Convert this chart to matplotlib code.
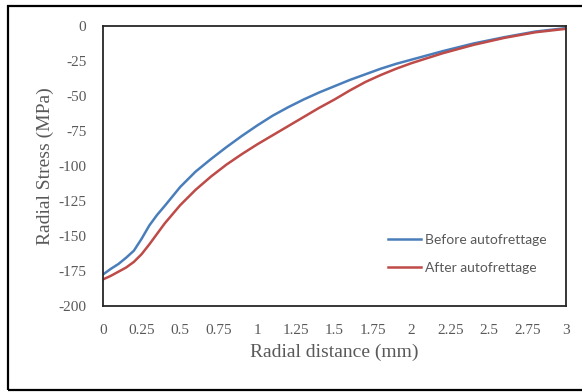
import matplotlib
matplotlib.use("Agg")
import matplotlib.pyplot as plt
from matplotlib.patches import Rectangle

plt.rcParams["axes.unicode_minus"] = False

# values
radius = [0, 0.05, 0.1, 0.15, 0.2, 0.25, 0.3, 0.35, 0.4, 0.5, 0.6, 0.7, 0.8, 0.9, 1,
          1.1, 1.2, 1.3, 1.4, 1.5, 1.6, 1.7, 1.8, 1.9, 2, 2.2, 2.4, 2.6, 2.8, 3]
before = [-177.5, -173.5, -170, -165.5, -160.5, -152, -142.5, -135, -128.5, -115, -104, -95,
          -86.5, -78.5, -71, -64, -58, -52.5, -47.5, -43, -38.5, -34.5, -30.5, -27, -24,
          -18, -12.5, -8, -4, -1.5]
after = [-181, -178.5, -175.5, -172.5, -168.5, -163, -156, -148.5, -141, -128, -117, -107.5,
         -99, -91.5, -84.5, -78, -71.5, -65, -58.5, -52.5, -46, -40, -35, -30.5, -26.5,
         -19.5, -13.5, -8.5, -4.5, -2]

xticks = [0, 0.25, 0.5, 0.75, 1, 1.25, 1.5, 1.75, 2, 2.25, 2.5, 2.75, 3]
xtick_labels = ["0", "0.25", "0.5", "0.75", "1", "1.25", "1.5", "1.75", "2", "2.25", "2.5", "2.75", "3"]
yticks = [0, -25, -50, -75, -100, -125, -150, -175, -200]

grey = "#595959"

fig = plt.figure(figsize=(5.82, 3.92), dpi=100)
ax = fig.add_axes([103/582, 1-306/392, (566-103)/582, (306-26)/392])

ax.plot(radius, before, color="#4A7EBB", lw=1.8, label="Before autofrettage")
ax.plot(radius, after, color="#BE4B48", lw=1.8, label="After autofrettage")

ax.set_xlim(0, 3)
ax.set_ylim(-200, 0)
ax.set_xticks(xticks)
ax.set_xticklabels(xtick_labels)
ax.set_yticks(yticks)
ax.tick_params(length=0, labelsize=11, labelcolor=grey)
ax.tick_params(axis="x", pad=13)
ax.tick_params(axis="y", pad=12)
for lab in ax.get_xticklabels() + ax.get_yticklabels():
    lab.set_family("Liberation Serif")
for s in ax.spines.values():
    s.set_color("#262626")
    s.set_linewidth(1.3)

ax.set_xlabel("Radial distance (mm)", family="Liberation Serif", fontsize=14, color=grey, labelpad=5)
ax.set_ylabel("Radial Stress (MPa)", family="Liberation Serif", fontsize=14, color=grey, labelpad=3)

leg = ax.legend(loc="lower right", bbox_to_anchor=(0.985, 0.07), frameon=False,
                handlelength=2.4, handletextpad=0.25, labelspacing=1.15,
                prop={"family": "Lato", "size": 10})
for t in leg.get_texts():
    t.set_color(grey)

# outer chart border
fig.patches.append(Rectangle((8/582, 2/392), 1.1, 384/392, transform=fig.transFigure,
                             fill=False, edgecolor="black", lw=1.6))

fig.savefig("out.png", dpi=100)
